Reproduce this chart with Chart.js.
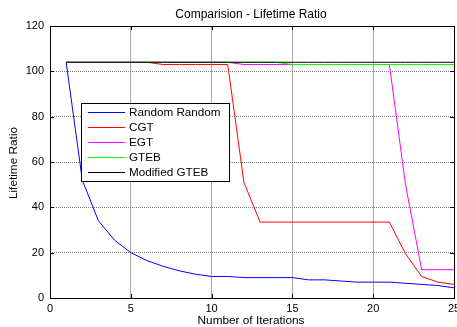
<!DOCTYPE html>
<html>
<head>
<meta charset="utf-8">
<script src="https://cdn.jsdelivr.net/npm/chart.js@4/dist/chart.umd.min.js"></script>
<style>
html,body{margin:0;padding:0;background:#fff;}
canvas{display:block;}
</style>
</head>
<body>
<canvas id="c" width="457" height="327"></canvas>
<script>
const iterations = [1,2,3,4,5,6,7,8,9,10,11,12,13,14,15,16,17,18,19,20,21,22,23,24,25];
const randomRandom = [104,52,34,25.5,20,16.5,14,12,10.5,9.5,9.5,9,9,9,9,8,8,7.5,7,7,7,6.5,6,5.5,4.5];
const cgt = [104,104,104,104,104,104,103,103,103,103,103,51,33.5,33.5,33.5,33.5,33.5,33.5,33.5,33.5,33.5,19.5,9.5,7,6];
const egt = [104,104,104,104,104,104,104,104,104,104,104,103,103,103,103,103,103,103,103,103,103,50,12.5,12.5,12.5];
const gteb = [104,104,104,104,104,104,104,104,104,104,104,104,104,104,103,103,103,103,103,103,103,103,103,103,103];
const modifiedGteb = [104,104,104,104,104,104,104,104,104,104,104,104,104,104,104,104,104,104,104,104,104,104,104,104,104];
const seriesNames = ['Random Random','CGT','EGT','GTEB','Modified GTEB'];
const xTicks = [0,5,10,15,20,25];
const yTicks = [0,20,40,60,80,100,120];
const chartTitle = 'Comparision - Lifetime Ratio';
const xTitle = 'Number of Iterations';
const yTitle = 'Lifetime Ratio';

const colors = ['#0000ff','#ff0000','#ff00ff','#00ff00','#000000'];
const allSeries = [randomRandom, cgt, egt, gteb, modifiedGteb];
const FONT = '"Liberation Sans", Arial, sans-serif';

const datasets = allSeries.map((s, i) => ({
  label: seriesNames[i],
  data: s.map((v, j) => ({x: iterations[j], y: v})),
  borderColor: colors[i],
  backgroundColor: colors[i],
  borderWidth: 1,
  pointRadius: 0,
  tension: 0,
  fill: false,
  order: 5 - i
}));

const decor = {
  id: 'decor',
  afterDatasetsDraw(chart) {
    const ctx = chart.ctx;
    const a = chart.chartArea;
    const xs = chart.scales.x, ys = chart.scales.y;
    ctx.save();
    ctx.strokeStyle = '#000';
    ctx.lineWidth = 1;
    ctx.strokeRect(Math.round(a.left)+0.5, Math.round(a.top)+0.5, Math.round(a.right-a.left), Math.round(a.bottom-a.top));
    xTicks.forEach(v => {
      const px = Math.round(xs.getPixelForValue(v)) + 0.5;
      ctx.beginPath();
      ctx.moveTo(px, a.bottom); ctx.lineTo(px, a.bottom - 4);
      ctx.moveTo(px, a.top); ctx.lineTo(px, a.top + 4);
      ctx.stroke();
    });
    yTicks.forEach(v => {
      const py = Math.round(ys.getPixelForValue(v)) + 0.5;
      ctx.beginPath();
      ctx.moveTo(a.left, py); ctx.lineTo(a.left + 4, py);
      ctx.moveTo(a.right, py); ctx.lineTo(a.right - 4, py);
      ctx.stroke();
    });
    ctx.fillStyle = '#000';
    ctx.font = '12px ' + FONT;
    ctx.textAlign = 'center';
    ctx.textBaseline = 'middle';
    const cx = 251;
    ctx.fillText(chartTitle, cx, 15);
    ctx.font = '11.8px ' + FONT;
    ctx.fillText(xTitle, cx, 321);
    ctx.save();
    ctx.translate(14, 163);
    ctx.rotate(-Math.PI/2);
    ctx.fillText(yTitle, 0, 0);
    ctx.restore();
    const lx = 81, ly = 103, lw = 148, lh = 78;
    ctx.fillStyle = '#fff';
    ctx.fillRect(lx, ly, lw, lh);
    ctx.strokeStyle = '#000';
    ctx.strokeRect(lx + 0.5, ly + 0.5, lw, lh);
    ctx.font = '11.7px ' + FONT;
    ctx.textAlign = 'left';
    chart.data.datasets.forEach((d, i) => {
      const y = 112 + i * 15;
      ctx.strokeStyle = d.borderColor;
      ctx.lineWidth = 1;
      ctx.beginPath();
      ctx.moveTo(88, y + 0.5); ctx.lineTo(125, y + 0.5);
      ctx.stroke();
      ctx.fillStyle = '#000';
      ctx.fillText(d.label, 129, y + 1);
    });
    ctx.restore();
  }
};

new Chart(document.getElementById('c'), {
  type: 'line',
  data: { datasets },
  options: {
    responsive: false,
    animation: false,
    layout: { padding: { left: 0, top: 26, right: 3, bottom: 0 } },
    plugins: { legend: { display: false }, title: { display: false }, tooltip: { enabled: false } },
    scales: {
      x: {
        type: 'linear', min: 0, max: 25,
        afterBuildTicks(s) { s.ticks = xTicks.map(v => ({value: v})); },
        afterFit(s) { s.height = 29; s.paddingLeft = 0; s.paddingRight = 0; },
        ticks: { color: '#000', font: { family: FONT, size: 11 }, padding: 4, maxRotation: 0, autoSkip: false },
        grid: {
          color: (c) => (c.tick && (c.tick.value === 0 || c.tick.value === 25)) ? 'rgba(0,0,0,0)' : '#a8a8a8',
          lineWidth: 1, drawTicks: false
        },
        border: { display: false }
      },
      y: {
        type: 'linear', min: 0, max: 120,
        afterBuildTicks(s) { s.ticks = yTicks.map(v => ({value: v})); },
        afterFit(s) { s.width = 50; s.paddingTop = 0; s.paddingBottom = 0; },
        ticks: { color: '#000', font: { family: FONT, size: 11 }, padding: 6, autoSkip: false },
        grid: {
          color: (c) => (c.tick && (c.tick.value === 0 || c.tick.value === 120)) ? 'rgba(0,0,0,0)' : '#808080',
          lineWidth: 1, drawTicks: false
        },
        border: { display: false, dash: [1, 1] }
      }
    }
  },
  plugins: [decor]
});
</script>
</body>
</html>
